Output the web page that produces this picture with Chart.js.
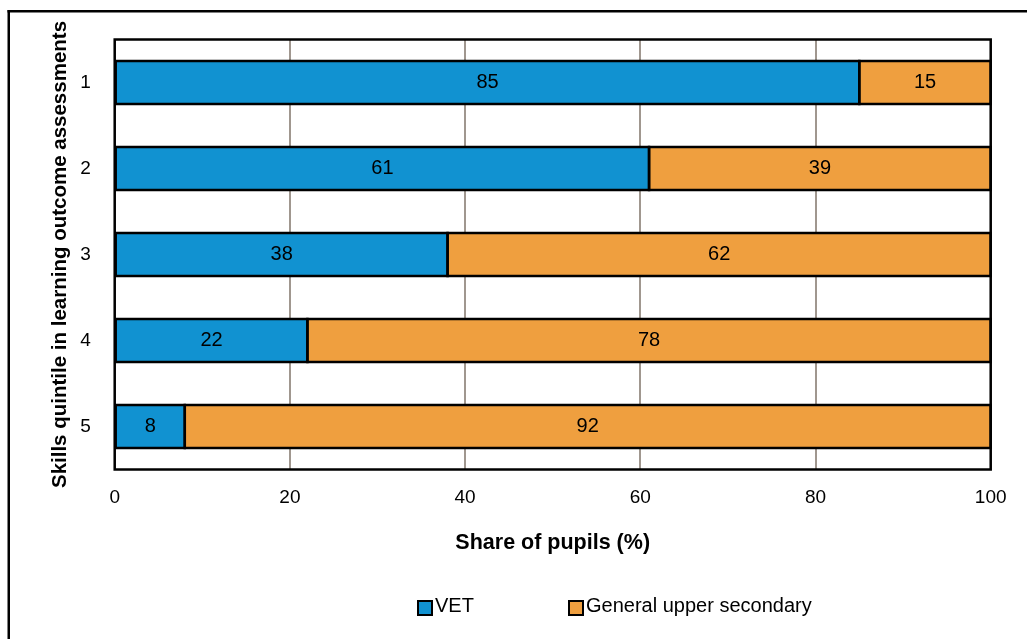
<!DOCTYPE html>
<html>
<head>
<meta charset="utf-8">
<script src="https://cdn.jsdelivr.net/npm/chart.js@4"></script>
<style>
  html, body { margin: 0; padding: 0; background: #ffffff; }
  canvas { display: block; }
</style>
</head>
<body>
<canvas id="chart" width="1027" height="639"></canvas>
<script>
// Skills quintiles (1 = highest) and the share of pupils in each track
const quintiles = ['1', '2', '3', '4', '5'];
const vetShare = [85, 61, 38, 22, 8];
const generalShare = [15, 39, 62, 78, 92];
const xTicks = [0, 20, 40, 60, 80, 100];

const FONT = "'Liberation Sans Narrow', 'Arial Narrow', 'Liberation Sans', Arial, sans-serif";
const BLUE = '#1192d1';
const ORANGE = '#ef9f3f';

// Page frame (top and left rule)
const pageFrame = {
  id: 'pageFrame',
  beforeDraw(chart) {
    const ctx = chart.ctx;
    ctx.save();
    ctx.fillStyle = '#ffffff';
    ctx.fillRect(0, 0, chart.width, chart.height);
    ctx.fillStyle = '#000000';
    ctx.fillRect(7.5, 10, chart.width - 7.5, 2.5);
    ctx.fillRect(7.5, 10, 2.5, chart.height - 10);
    ctx.restore();
  }
};

// Box around the plot area, plus a firm outline on every bar segment
const plotFrame = {
  id: 'plotFrame',
  afterDatasetsDraw(chart) {
    const { ctx, chartArea: a } = chart;
    ctx.save();
    ctx.strokeStyle = '#000000';
    ctx.lineWidth = 2.5;
    chart.data.datasets.forEach((ds, i) => {
      chart.getDatasetMeta(i).data.forEach(bar => {
        const { x, y, base, height } = bar.getProps(['x', 'y', 'base', 'height'], true);
        ctx.strokeRect(Math.min(x, base), y - height / 2, Math.abs(x - base), height);
      });
    });
    ctx.strokeRect(a.left, a.top, a.right - a.left, a.bottom - a.top);
    ctx.restore();
  }
};

// Value written in the middle of each bar segment
const barValues = {
  id: 'barValues',
  afterDraw(chart) {
    const ctx = chart.ctx;
    ctx.save();
    ctx.font = '20px ' + FONT;
    ctx.fillStyle = '#000000';
    ctx.textAlign = 'center';
    ctx.textBaseline = 'middle';
    chart.data.datasets.forEach((ds, i) => {
      const meta = chart.getDatasetMeta(i);
      meta.data.forEach((bar, j) => {
        const { x, y, base } = bar.getProps(['x', 'y', 'base'], true);
        ctx.fillText(String(ds.data[j]), (x + base) / 2, y);
      });
    });
    ctx.restore();
  }
};

// Legend row under the axis title
const legendRow = {
  id: 'legendRow',
  afterDraw(chart, args, opts) {
    const ctx = chart.ctx;
    ctx.save();
    ctx.font = '20px ' + FONT;
    ctx.textBaseline = 'middle';
    ctx.textAlign = 'left';
    chart.data.datasets.forEach((ds, i) => {
      const x = opts.starts[i];
      const y = opts.y;
      ctx.fillStyle = ds.backgroundColor;
      ctx.fillRect(x, y - 5, 14, 14);
      ctx.strokeStyle = '#000000';
      ctx.lineWidth = 2;
      ctx.strokeRect(x, y - 5, 14, 14);
      ctx.fillStyle = '#000000';
      ctx.fillText(ds.label, x + 17, y);
    });
    ctx.restore();
  }
};

new Chart(document.getElementById('chart'), {
  type: 'bar',
  data: {
    labels: quintiles,
    datasets: [
      {
        label: 'VET',
        data: vetShare,
        backgroundColor: BLUE,
        borderWidth: 0,
        inflateAmount: 0,
        categoryPercentage: 1,
        barPercentage: 0.5
      },
      {
        label: 'General upper secondary',
        data: generalShare,
        backgroundColor: ORANGE,
        borderWidth: 0,
        inflateAmount: 0,
        categoryPercentage: 1,
        barPercentage: 0.5
      }
    ]
  },
  options: {
    indexAxis: 'y',
    responsive: false,
    animation: false,
    layout: { padding: { left: 20, right: 36.3, top: 39.5, bottom: 65 } },
    plugins: {
      legend: { display: false },
      tooltip: { enabled: false },
      legendRow: { starts: [418, 569], y: 606 }
    },
    scales: {
      x: {
        stacked: true,
        min: 0,
        max: 100,
        afterFit(scale) { scale.height = 104.5; },
        afterBuildTicks(scale) { scale.ticks = xTicks.map(v => ({ value: v })); },
        grid: { color: '#a0978f', lineWidth: 2, drawTicks: false },
        border: { display: false },
        ticks: { color: '#000000', font: { family: FONT, size: 19 }, padding: 17 },
        title: {
          display: true,
          text: 'Share of pupils (%)',
          color: '#000000',
          font: { family: FONT, size: 21.5, weight: 'bold' },
          padding: { top: 0, bottom: 18 }
        }
      },
      y: {
        stacked: true,
        afterFit(scale) { scale.width = 94.7; },
        grid: { display: false, drawTicks: false },
        border: { display: false },
        ticks: { color: '#000000', font: { family: FONT, size: 19 }, padding: 24 },
        title: {
          display: true,
          text: 'Skills quintile in learning outcome assessments',
          color: '#000000',
          font: { family: FONT, size: 20.5, weight: 'bold' },
          padding: { top: 28, bottom: 0 }
        }
      }
    }
  },
  plugins: [pageFrame, plotFrame, barValues, legendRow]
});
</script>
</body>
</html>
